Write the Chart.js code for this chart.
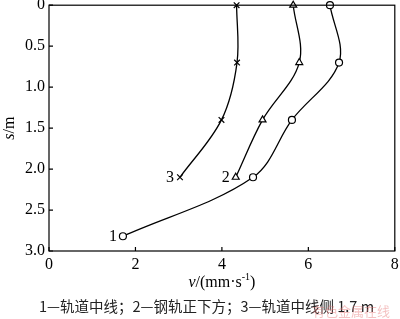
<!DOCTYPE html>
<html>
<head>
<meta charset="utf-8">
<script src="https://cdn.jsdelivr.net/npm/chart.js@4"></script>
<style>
  html, body { margin: 0; padding: 0; background: #fff; }
  #wrap { width: 400px; height: 319px; }
</style>
</head>
<body>
<div id="wrap"><canvas id="c"></canvas></div>
<script>
// depth below surface (m) and vibration velocity (mm/s)
const depth = [0, 0.7, 1.4, 2.1];
const depth1 = [0, 0.7, 1.4, 2.1, 2.82];
const v1 = [6.5, 6.71, 5.62, 4.72, 1.71];
const v2 = [5.65, 5.79, 4.94, 4.32];
const v3 = [4.34, 4.35, 3.99, 3.03];
const seriesNames = ['1', '2', '3'];
const xTicks = [0, 2, 4, 6, 8];
const yTicks = [0, 0.5, 1.0, 1.5, 2.0, 2.5, 3.0];
const caption = '1—轨道中线；2—钢轨正下方；3—轨道中线侧 1.7 m';

const serif = '"Liberation Serif", "Times New Roman", serif';
const cjk = '"Noto Sans CJK SC", sans-serif';

function pts(xs, ys) {
  return xs.map((x, i) => ({ x: x, y: ys[i] }));
}

function ds(name, xs, ys, style) {
  return {
    label: name,
    data: pts(xs, ys),
    showLine: true,
    tension: 0.35,
    borderColor: '#000',
    borderWidth: 1.3,
    pointStyle: style,
    pointRadius: style === 'circle' ? 3.5 : 4,
    pointBackgroundColor: '#fff',
    pointBorderColor: '#000',
    pointBorderWidth: 1.2,
    clip: false
  };
}

// frame, inward ticks, axis titles, curve numbers, caption
const decor = {
  id: 'decor',
  afterDraw(chart) {
    const ctx = chart.ctx;
    const a = chart.chartArea;
    const xs = chart.scales.x, ys = chart.scales.y;
    ctx.save();
    ctx.strokeStyle = '#000';
    ctx.lineWidth = 1.2;
    ctx.strokeRect(a.left, a.top, a.right - a.left, a.bottom - a.top);
    ctx.beginPath();
    xTicks.forEach(t => {
      const px = xs.getPixelForValue(t);
      ctx.moveTo(px, a.bottom);
      ctx.lineTo(px, a.bottom - 4);
    });
    yTicks.forEach(t => {
      const py = ys.getPixelForValue(t);
      ctx.moveTo(a.left, py);
      ctx.lineTo(a.left + 4, py);
    });
    ctx.stroke();

    // curve numbers next to the last point
    ctx.fillStyle = '#000';
    ctx.font = '16px ' + serif;
    ctx.textAlign = 'right';
    ctx.textBaseline = 'middle';
    chart.data.datasets.forEach((d, i) => {
      const meta = chart.getDatasetMeta(i);
      const last = meta.data[meta.data.length - 1];
      ctx.fillText(seriesNames[i], last.x - 6, last.y + 1);
    });

    // y title: italic s + "/m", rotated
    ctx.save();
    ctx.translate(10, (a.top + a.bottom) / 2);
    ctx.rotate(-Math.PI / 2);
    ctx.textAlign = 'left';
    ctx.font = 'italic 16px ' + serif;
    const ws = ctx.measureText('s').width;
    ctx.font = '16px ' + serif;
    const wm = ctx.measureText('/m').width;
    let sx = -(ws + wm) / 2;
    ctx.font = 'italic 16px ' + serif;
    ctx.fillText('s', sx, 0);
    ctx.font = '16px ' + serif;
    ctx.fillText('/m', sx + ws, 0);
    ctx.restore();

    // x title: v/(mm·s^-1)
    const cy = 283;
    ctx.textAlign = 'left';
    ctx.font = 'italic 16px ' + serif;
    const wv = ctx.measureText('v').width;
    ctx.font = '16px ' + serif;
    const wa = ctx.measureText('/(mm·s').width;
    ctx.font = '10px ' + serif;
    const wsup = ctx.measureText('-1').width;
    ctx.font = '16px ' + serif;
    const wc = ctx.measureText(')').width;
    let x0 = (a.left + a.right) / 2 - (wv + wa + wsup + wc) / 2;
    ctx.font = 'italic 16px ' + serif;
    ctx.fillText('v', x0, cy);
    x0 += wv;
    ctx.font = '16px ' + serif;
    ctx.fillText('/(mm·s', x0, cy);
    x0 += wa;
    ctx.font = '10px ' + serif;
    ctx.fillText('-1', x0, cy - 6);
    x0 += wsup;
    ctx.font = '16px ' + serif;
    ctx.fillText(')', x0, cy);

    // caption
    ctx.font = '14.5px ' + cjk;
    ctx.textAlign = 'left';
    ctx.fillStyle = '#222';
    ctx.fillText(caption, 39, 306);

    // faint watermark
    ctx.font = '13px ' + cjk;
    ctx.fillStyle = 'rgba(230,120,120,0.45)';
    ctx.fillText('有色金属在线', 312, 311);
    ctx.restore();
  }
};

new Chart(document.getElementById('c'), {
  type: 'scatter',
  data: {
    datasets: [
      ds(seriesNames[0], v1, depth1, 'circle'),
      ds(seriesNames[1], v2, depth, 'triangle'),
      ds(seriesNames[2], v3, depth, 'crossRot')
    ]
  },
  options: {
    responsive: true,
    maintainAspectRatio: false,
    animation: false,
    layout: { padding: { top: 5, right: 5, left: 0, bottom: 0 } },
    plugins: { legend: { display: false }, tooltip: { enabled: false } },
    scales: {
      x: {
        type: 'linear',
        min: 0, max: 8,
        grid: { display: false, drawTicks: false },
        border: { display: false },
        afterBuildTicks: s => { s.ticks = xTicks.map(v => ({ value: v })); },
        afterFit: s => { s.height = 68; s.paddingLeft = 0; s.paddingRight = 0; },
        ticks: {
          padding: 4,
          color: '#000',
          font: { family: serif, size: 16 },
          maxRotation: 0,
          callback: v => String(v)
        }
      },
      y: {
        type: 'linear',
        reverse: true,
        min: 0, max: 3,
        grid: { display: false, drawTicks: false },
        border: { display: false },
        afterBuildTicks: s => { s.ticks = yTicks.map(v => ({ value: v })); },
        afterFit: s => { s.width = 49; s.paddingTop = 0; s.paddingBottom = 0; },
        ticks: {
          padding: 4,
          color: '#000',
          font: { family: serif, size: 16 },
          callback: v => (v === 0 ? '0' : Number(v).toFixed(1))
        }
      }
    }
  },
  plugins: [decor]
});
</script>
</body>
</html>
